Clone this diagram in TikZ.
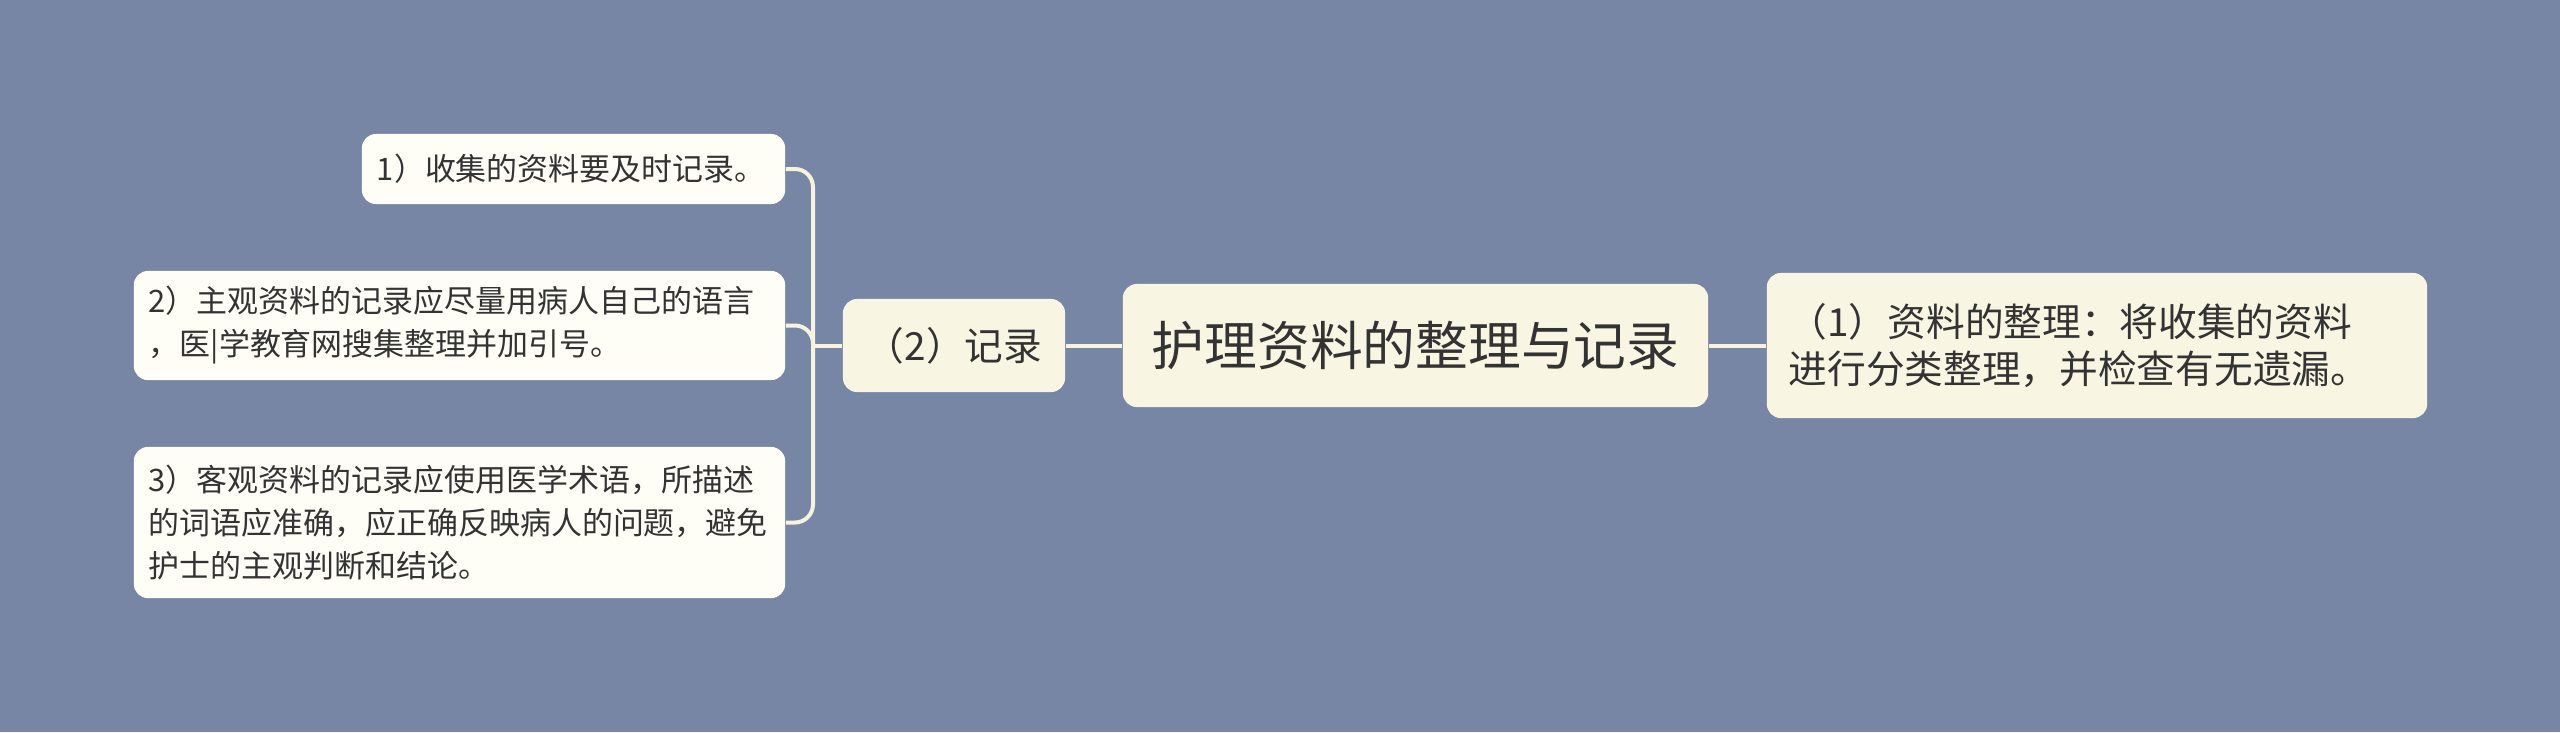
\documentclass[tikz,border=0pt]{standalone}
\usepackage{fontspec}
\setmainfont{Noto Sans CJK SC}
\usepackage{xcolor}
\definecolor{bgblue}{HTML}{7886A6}
\definecolor{topcream}{HTML}{F8F5E2}
\definecolor{leafwhite}{HTML}{FEFEF7}
\definecolor{linecream}{HTML}{F6F2DD}
\definecolor{txtgray}{HTML}{333333}

\begin{document}
\begin{tikzpicture}[x=0.01cm,y=-0.01cm,
  topic/.style={fill=topcream,rounded corners=0.14cm,text=txtgray,inner sep=0pt},
  leaf/.style={fill=leafwhite,rounded corners=0.14cm,text=txtgray,align=left,inner xsep=0.15cm,inner ysep=0pt,font=\fontsize{8.8pt}{12.2pt}\selectfont},
  link/.style={draw=linecream,line width=0.04cm}]
\fill[bgblue](0,0)rectangle(2560,732);
\node[topic,minimum width=5.85cm,minimum height=1.23cm,font=\fontsize{15pt}{18pt}\selectfont](root)at(1415.5,345.5){护理资料的整理与记录};
\node[topic,minimum width=2.22cm,minimum height=0.93cm,font=\fontsize{11pt}{13pt}\selectfont](rec)at(954,345.5){（2）记录};
\node[topic,align=left,inner xsep=0.22cm,text width=6.16cm,minimum height=1.45cm,font=\fontsize{11pt}{13.2pt}\selectfont](sort)at(2097,345.5){（1）资料的整理：将收集的资料\\进行分类整理，并检查有无遗漏。};
\node[leaf,text width=3.93cm,minimum height=0.70cm](rec1)at(573.5,169){1）收集的资料要及时记录。};
\node[leaf,text width=6.21cm,minimum height=1.09cm](rec2)at(459.5,325.5){2）主观资料的记录应尽量用病人自己的语言\\，医|学教育网搜集整理并加引号。};
\node[leaf,text width=6.21cm,minimum height=1.51cm](rec3)at(459.5,522.5){3）客观资料的记录应使用医学术语，所描述\\的词语应准确，应正确反映病人的问题，避免\\护士的主观判断和结论。};
\coordinate(fork)at(813,345.5);
\draw[link](root)--(sort);
\draw[link](root)--(rec);
\draw[link](rec.west)--(fork);
\foreach \n in {rec1,rec2,rec3}
  \draw[link,rounded corners=0.18cm](fork)|-(\n.east);
\end{tikzpicture}
\end{document}
